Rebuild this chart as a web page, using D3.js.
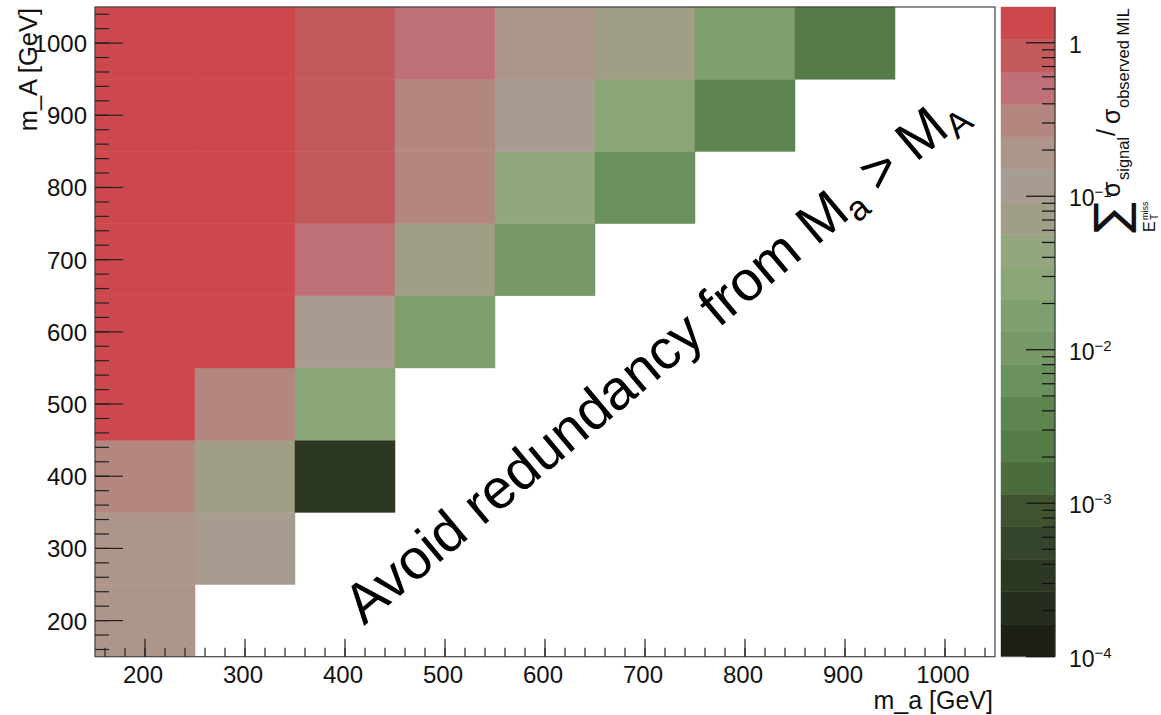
<!DOCTYPE html>
<html>
<head>
<meta charset="utf-8">
<script src="https://cdn.jsdelivr.net/npm/d3@7"></script>
<style>
  html, body { margin: 0; padding: 0; background: #fff; }
  svg { display: block; font-family: "Liberation Sans", Arial, Helvetica, sans-serif; }
</style>
</head>
<body>
<svg id="chart" width="1161" height="715"></svg>
<script>
// ---------------- DATA ----------------
const ma_bins = [200, 300, 400, 500, 600, 700, 800, 900, 1000];   // x: m_a [GeV]
const mA_bins = [200, 300, 400, 500, 600, 700, 800, 900, 1000];   // y: m_A [GeV]
// ratio values per m_a column, ordered by m_A = 200 .. 1000 (null = empty bin)
const ratio_ma200  = [0.19, 0.19, 0.31, 1.42, 1.45, 1.48, 1.50, 1.52, 1.55];
const ratio_ma300  = [null, 0.12, 0.072, 0.31, 1.38, 1.44, 1.47, 1.50, 1.53];
const ratio_ma400  = [null, null, 0.00034, 0.027, 0.12, 0.50, 0.82, 0.85, 0.88];
const ratio_ma500  = [null, null, null, null, 0.017, 0.072, 0.31, 0.33, 0.50];
const ratio_ma600  = [null, null, null, null, null, 0.010, 0.044, 0.12, 0.19];
const ratio_ma700  = [null, null, null, null, null, null, 0.0063, 0.027, 0.072];
const ratio_ma800  = [null, null, null, null, null, null, null, 0.0038, 0.017];
const ratio_ma900  = [null, null, null, null, null, null, null, null, 0.0024];
const ratio_ma1000 = [null, null, null, null, null, null, null, null, null];
const columns = [ratio_ma200, ratio_ma300, ratio_ma400, ratio_ma500, ratio_ma600,
                 ratio_ma700, ratio_ma800, ratio_ma900, ratio_ma1000];

const xTicks = [200, 300, 400, 500, 600, 700, 800, 900, 1000];
const yTicks = [200, 300, 400, 500, 600, 700, 800, 900, 1000];
const zTicks = [1e-4, 1e-3, 1e-2, 1e-1, 1];
const zExponents = ["−4", "−3", "−2", "−1", null];
const xDomain = [150, 1050];
const yDomain = [150, 1050];
const zDomain = [1e-4, 1.71];
// 20 palette bands, from lowest (bottom) to highest (top)
const bandColors = ["#1d2015", "#242d1e", "#2d3823", "#34452b", "#3f5331",
                    "#4b6c3c", "#557b47", "#5e8550", "#6a915d", "#779967",
                    "#7fa06e", "#8aa677", "#93a67f", "#a09f85", "#a89c90",
                    "#ae958a", "#b38780", "#bf7076", "#c25a5b", "#cc484d"];

// ---------------- LAYOUT ----------------
const svg = d3.select("#chart");
const L = 95, R = 995, T = 7, B = 656.7;
const cbL = 1001, cbR = 1055;

const x = d3.scaleLinear().domain(xDomain).range([L, R]);
const y = d3.scaleLinear().domain(yDomain).range([B, T]);
const zLog = d3.scaleLog().domain(zDomain).range([B, T]);
const color = d3.scaleQuantize()
  .domain([Math.log10(zDomain[0]), Math.log10(zDomain[1])])
  .range(bandColors);

const cells = [];
ma_bins.forEach((ma, i) => {
  mA_bins.forEach((mA, j) => {
    const v = columns[i][j];
    if (v != null) cells.push({ ma, mA, v });
  });
});
const half = 50;

// cells
svg.append("g").selectAll("rect").data(cells).join("rect")
  .attr("x", d => x(d.ma - half))
  .attr("y", d => y(d.mA + half))
  .attr("width", d => x(d.ma + half) - x(d.ma - half))
  .attr("height", d => y(d.mA - half) - y(d.mA + half))
  .attr("fill", d => color(Math.log10(d.v)))
  .attr("stroke", d => color(Math.log10(d.v)))
  .attr("stroke-width", 0.5);

// frame
svg.append("rect").attr("x", L).attr("y", T).attr("width", R - L).attr("height", B - T)
  .attr("fill", "none").attr("stroke", "#444").attr("stroke-width", 1.2);

// x axis ticks (inward)
const xMinor = d3.range(xDomain[0] + 10, xDomain[1], 20);
const gx = svg.append("g");
gx.selectAll("line.minor").data(xMinor).join("line")
  .attr("x1", d => x(d)).attr("x2", d => x(d)).attr("y1", B).attr("y2", B - 9)
  .attr("stroke", "#222").attr("stroke-width", 1.2);
gx.selectAll("line.major").data(xTicks).join("line")
  .attr("x1", d => x(d)).attr("x2", d => x(d)).attr("y1", B).attr("y2", B - 18)
  .attr("stroke", "#222").attr("stroke-width", 1.2);
gx.selectAll("text").data(xTicks).join("text")
  .attr("x", d => x(d) - 2).attr("y", 683)
  .attr("text-anchor", "middle").attr("font-size", 24).attr("fill", "#111")
  .text(d => d);
svg.append("text").attr("x", 993).attr("y", 709).attr("text-anchor", "end")
  .attr("font-size", 25).attr("fill", "#111").text("m_a [GeV]");

// y axis ticks (inward)
const yMinor = d3.range(yDomain[0] + 10, yDomain[1], 20);
const gy = svg.append("g");
gy.selectAll("line.minor").data(yMinor).join("line")
  .attr("x1", L).attr("x2", L + 14).attr("y1", d => y(d)).attr("y2", d => y(d))
  .attr("stroke", "#222").attr("stroke-width", 1.2);
gy.selectAll("line.major").data(yTicks).join("line")
  .attr("x1", L).attr("x2", L + 28).attr("y1", d => y(d)).attr("y2", d => y(d))
  .attr("stroke", "#222").attr("stroke-width", 1.2);
gy.selectAll("text").data(yTicks).join("text")
  .attr("x", 87).attr("y", d => y(d) + 9)
  .attr("text-anchor", "end").attr("font-size", 24).attr("fill", "#111")
  .text(d => d);
svg.append("text").attr("transform", `translate(37,${T + 1}) rotate(-90)`)
  .attr("text-anchor", "end").attr("font-size", 25.5).attr("fill", "#111").text("m_A [GeV]");

// ---------------- COLOR BAR ----------------
const thr = [Math.log10(zDomain[0]), ...color.thresholds(), Math.log10(zDomain[1])];
const bands = bandColors.map((c, i) => ({ c, lo: Math.pow(10, thr[i]), hi: Math.pow(10, thr[i + 1]) }));
svg.append("g").selectAll("rect").data(bands).join("rect")
  .attr("x", cbL).attr("width", cbR - cbL)
  .attr("y", d => zLog(d.hi)).attr("height", d => zLog(d.lo) - zLog(d.hi))
  .attr("fill", d => d.c).attr("stroke", d => d.c).attr("stroke-width", 0.4);
svg.append("line").attr("x1", cbR).attr("x2", cbR).attr("y1", T).attr("y2", B)
  .attr("stroke", "#333").attr("stroke-width", 1.2);
svg.append("line").attr("x1", cbL).attr("x2", cbR).attr("y1", B).attr("y2", B)
  .attr("stroke", "#666").attr("stroke-width", 1);

const zMinor = [];
for (let e = -4; e <= 0; e++) for (let m = 2; m <= 9; m++) {
  const v = m * Math.pow(10, e);
  if (v < zDomain[1]) zMinor.push(v);
}
const gz = svg.append("g");
gz.selectAll("line.minor").data(zMinor).join("line")
  .attr("x1", cbR).attr("x2", cbR - 13).attr("y1", d => zLog(d)).attr("y2", d => zLog(d))
  .attr("stroke", "#111").attr("stroke-width", 1.2);
gz.selectAll("line.major").data(zTicks).join("line")
  .attr("x1", cbR).attr("x2", cbR - 29).attr("y1", d => zLog(d)).attr("y2", d => zLog(d))
  .attr("stroke", "#111").attr("stroke-width", 1.2);
const zl = gz.selectAll("text").data(zTicks).join("text")
  .attr("x", 1069).attr("y", d => zLog(d) + 10)
  .attr("font-size", 23).attr("fill", "#111");
zl.each(function (d, i) {
  const t = d3.select(this);
  if (zExponents[i] == null) { t.text("1"); return; }
  t.append("tspan").text("10");
  t.append("tspan").attr("font-size", 15).attr("dy", -9).text(zExponents[i]);
});

// colour bar title (rotated)
const tg = svg.append("g").attr("transform", "translate(1120,233) rotate(-90)").attr("fill", "#111");
tg.append("text").attr("x", 0).attr("y", 7).attr("font-size", 46).attr("font-family", "DejaVu Sans").text("∑");
tg.append("text").attr("x", 1).attr("y", 35).attr("font-size", 16).text("E");
tg.append("text").attr("x", 13).attr("y", 38).attr("font-size", 10).text("T");
tg.append("text").attr("x", 13).attr("y", 28).attr("font-size", 9).text("miss");
tg.append("text").attr("x", 36).attr("y", 0).attr("font-size", 25).text("σ");
tg.append("text").attr("x", 53).attr("y", 9).attr("font-size", 16.5).text("signal");
tg.append("text").attr("x", 97).attr("y", -5).attr("font-size", 25).text("/");
tg.append("text").attr("x", 109).attr("y", 0).attr("font-size", 25).text("σ");
tg.append("text").attr("x", 125).attr("y", 9).attr("font-size", 16.5).text("observed MIL");

// ---------------- ANNOTATION ----------------
const ann = svg.append("text").attr("transform", "translate(364,626) rotate(-40)")
  .attr("font-size", 56).attr("fill", "#000");
ann.append("tspan").text("Avoid redundancy from M");
ann.append("tspan").attr("font-size", 35).attr("dy", 9).text("a");
ann.append("tspan").attr("dy", -9).text(" > M");
ann.append("tspan").attr("font-size", 35).attr("dy", 9).text("A");
</script>
</body>
</html>
